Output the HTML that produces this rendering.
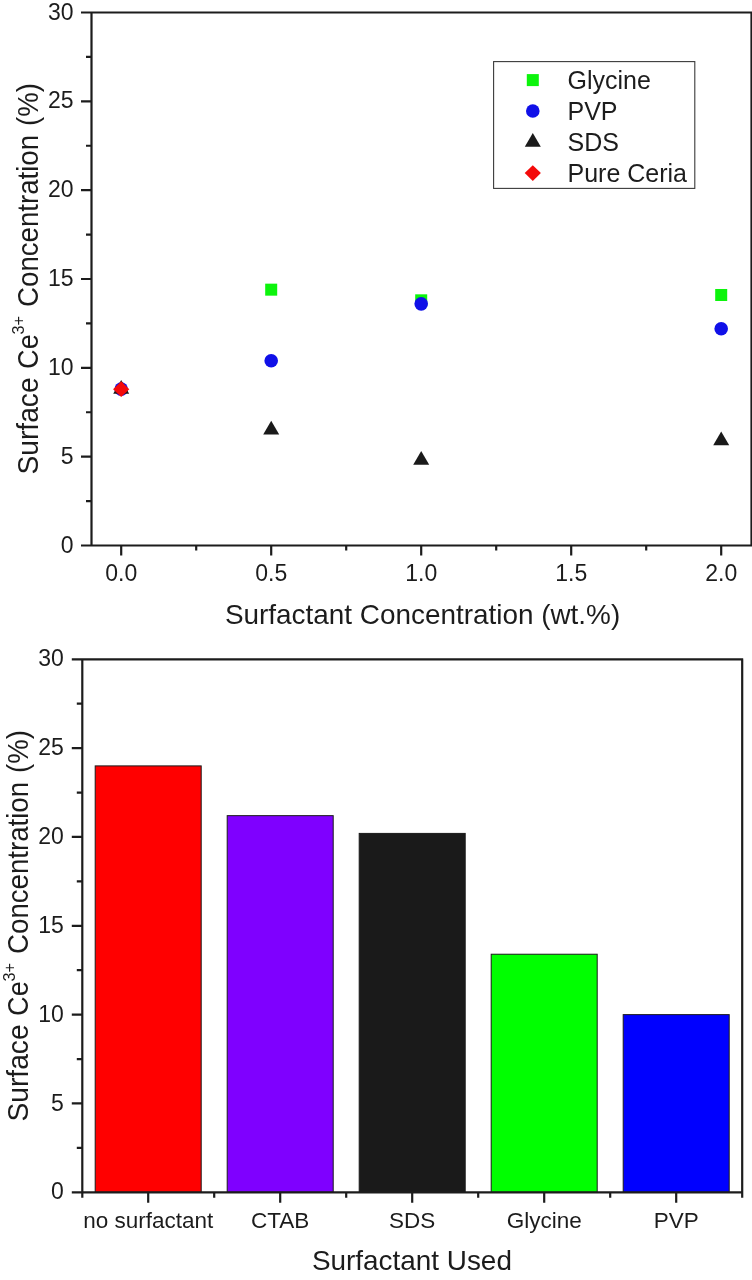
<!DOCTYPE html>
<html><head><meta charset="utf-8"><title>Surface Ce3+ Concentration</title>
<style>html,body{margin:0;padding:0;background:#fff;}body{width:752px;height:1280px;overflow:hidden;font-family:"Liberation Sans",sans-serif;}svg{display:block;will-change:transform}</style>
</head><body>
<svg width="752" height="1280" viewBox="0 0 752 1280">
<rect width="752" height="1280" fill="#fff"/>
<g font-family="'Liberation Sans', sans-serif" fill="#1c1c1c">
<g stroke="#1c1c1c" stroke-width="2.2" fill="none">
<path d="M81 12.5H752.5M751.5 12.5V545.5M81 545.5H752.5M91.5 12.5V545.5"/>
<path d="M81 456.67H91.5M81 367.83H91.5M81 279H91.5M81 190.17H91.5M81 101.33H91.5M86 501.08H91.5M86 412.25H91.5M86 323.42H91.5M86 234.58H91.5M86 145.75H91.5M86 56.92H91.5M121.2 545.5V555.5M271.2 545.5V555.5M421.2 545.5V555.5M571.2 545.5V555.5M721.2 545.5V555.5M196.2 545.5V550.5M346.2 545.5V550.5M496.2 545.5V550.5M646.2 545.5V550.5"/>
</g>
<text transform="translate(73.5 552.6) scale(1 1.0)" font-size="23" text-anchor="end">0</text>
<text transform="translate(73.5 463.77) scale(1 1.0)" font-size="23" text-anchor="end">5</text>
<text transform="translate(73.5 374.93) scale(1 1.0)" font-size="23" text-anchor="end">10</text>
<text transform="translate(73.5 286.1) scale(1 1.0)" font-size="23" text-anchor="end">15</text>
<text transform="translate(73.5 197.27) scale(1 1.0)" font-size="23" text-anchor="end">20</text>
<text transform="translate(73.5 108.43) scale(1 1.0)" font-size="23" text-anchor="end">25</text>
<text transform="translate(73.5 19.6) scale(1 1.0)" font-size="23" text-anchor="end">30</text>
<text transform="translate(121.2 581.1) scale(1 1.0)" font-size="23" text-anchor="middle">0.0</text>
<text transform="translate(271.2 581.1) scale(1 1.0)" font-size="23" text-anchor="middle">0.5</text>
<text transform="translate(421.2 581.1) scale(1 1.0)" font-size="23" text-anchor="middle">1.0</text>
<text transform="translate(571.2 581.1) scale(1 1.0)" font-size="23" text-anchor="middle">1.5</text>
<text transform="translate(721.2 581.1) scale(1 1.0)" font-size="23" text-anchor="middle">2.0</text>
<text transform="translate(224.9 624.4) scale(1 1.0)" font-size="27.9">Surfactant Concentration (wt.%)</text>
<text transform="translate(37.5 474.5) rotate(-90) scale(1 1.045)" font-size="28.2">Surface</text>
<text transform="translate(37.5 368.9) rotate(-90) scale(0.96 1.045)" font-size="28.2">Ce</text>
<text transform="translate(23.9 334.5) rotate(-90) scale(1 1.045)" font-size="16.3">3+</text>
<text transform="translate(37.5 306.9) rotate(-90) scale(0.98 1.045)" font-size="28.2">Concentration</text>
<text transform="translate(37.5 125.9) rotate(-90) scale(0.98 1.01365)" font-size="28.2">(%)</text>
<rect x="265.2" y="283.66" width="12" height="12" fill="#0cf40c"/>
<rect x="415.2" y="294.32" width="12" height="12" fill="#0cf40c"/>
<rect x="715.2" y="288.99" width="12" height="12" fill="#0cf40c"/>
<circle cx="121.2" cy="389.15" r="6.8" fill="#1010e8"/>
<circle cx="271.2" cy="360.73" r="6.8" fill="#1010e8"/>
<circle cx="421.2" cy="303.87" r="6.8" fill="#1010e8"/>
<circle cx="721.2" cy="328.75" r="6.8" fill="#1010e8"/>
<path d="M121.2 379.95L129.2 393.75H113.2Z" fill="#1a1a1a"/>
<path d="M271.2 420.82L279.2 434.62H263.2Z" fill="#1a1a1a"/>
<path d="M421.2 451.02L429.2 464.82H413.2Z" fill="#1a1a1a"/>
<path d="M721.2 431.48L729.2 445.28H713.2Z" fill="#1a1a1a"/>
<path d="M121.2 381.25L129.3 389.15L121.2 397.05L113.1 389.15Z" fill="#f40a0a"/>
<rect x="493.6" y="61.6" width="201.2" height="126.8" fill="#fff" stroke="#3a3a3a" stroke-width="1.1"/>
<rect x="526.8" y="74.1" width="12" height="12" fill="#0cf40c"/>
<circle cx="532.8" cy="111" r="6.8" fill="#1010e8"/>
<path d="M532.8 132.9L540.8 146.7H524.8Z" fill="#1a1a1a"/>
<path d="M532.8 165.2L540.9 173.1L532.8 181L524.7 173.1Z" fill="#f40a0a"/>
<text transform="translate(567.5 89.2) scale(1 1.035)" font-size="25">Glycine</text>
<text transform="translate(567.5 120) scale(1 1.035)" font-size="25">PVP</text>
<text transform="translate(567.5 150.8) scale(1 1.035)" font-size="25">SDS</text>
<text transform="translate(567.5 181.6) scale(1 1.035)" font-size="25">Pure Ceria</text>
<rect x="95.2" y="765.9" width="106" height="426.4" fill="#ff0000" stroke="#1a1a1a" stroke-width="1"/>
<rect x="227.2" y="815.65" width="106" height="376.65" fill="#7f00ff" stroke="#1a1a1a" stroke-width="1"/>
<rect x="359.2" y="833.41" width="106" height="358.89" fill="#1a1a1a" stroke="#1a1a1a" stroke-width="1"/>
<rect x="491.2" y="954.23" width="106" height="238.07" fill="#00ff00" stroke="#1a1a1a" stroke-width="1"/>
<rect x="623.2" y="1014.63" width="106" height="177.67" fill="#0000ff" stroke="#1a1a1a" stroke-width="1"/>
<g stroke="#1c1c1c" stroke-width="2.2" fill="none">
<path d="M71.8 659.3H743.2M742.2 659.3V1197.8M71.8 1192.3H743.2M82.3 659.3V1197.8M71.8 1103.47H82.3M71.8 1014.63H82.3M71.8 925.8H82.3M71.8 836.97H82.3M71.8 748.13H82.3M76.8 1147.88H82.3M76.8 1059.05H82.3M76.8 970.22H82.3M76.8 881.38H82.3M76.8 792.55H82.3M76.8 703.72H82.3M148.2 1192.3V1202.8M214.2 1192.3V1197.8M280.2 1192.3V1202.8M346.2 1192.3V1197.8M412.2 1192.3V1202.8M478.2 1192.3V1197.8M544.2 1192.3V1202.8M610.2 1192.3V1197.8M676.2 1192.3V1202.8"/>
</g>
<text transform="translate(63.8 1199.4) scale(1 1.0)" font-size="23" text-anchor="end">0</text>
<text transform="translate(63.8 1110.57) scale(1 1.0)" font-size="23" text-anchor="end">5</text>
<text transform="translate(63.8 1021.73) scale(1 1.0)" font-size="23" text-anchor="end">10</text>
<text transform="translate(63.8 932.9) scale(1 1.0)" font-size="23" text-anchor="end">15</text>
<text transform="translate(63.8 844.07) scale(1 1.0)" font-size="23" text-anchor="end">20</text>
<text transform="translate(63.8 755.23) scale(1 1.0)" font-size="23" text-anchor="end">25</text>
<text transform="translate(63.8 666.4) scale(1 1.0)" font-size="23" text-anchor="end">30</text>
<text transform="translate(148.2 1228) scale(1 1.0)" font-size="22.5" text-anchor="middle">no surfactant</text>
<text transform="translate(280.2 1228) scale(1 1.0)" font-size="22.5" text-anchor="middle">CTAB</text>
<text transform="translate(412.2 1228) scale(1 1.0)" font-size="22.5" text-anchor="middle">SDS</text>
<text transform="translate(544.2 1228) scale(1 1.0)" font-size="22.5" text-anchor="middle">Glycine</text>
<text transform="translate(676.2 1228) scale(1 1.0)" font-size="22.5" text-anchor="middle">PVP</text>
<text transform="translate(311.9 1270.2) scale(1 1.0)" font-size="27.9">Surfactant Used</text>
<text transform="translate(28.4 1121.5) rotate(-90) scale(1 1.045)" font-size="28.2">Surface</text>
<text transform="translate(28.4 1015.9) rotate(-90) scale(0.96 1.045)" font-size="28.2">Ce</text>
<text transform="translate(14.8 981.5) rotate(-90) scale(1 1.045)" font-size="16.3">3+</text>
<text transform="translate(28.4 953.9) rotate(-90) scale(0.98 1.045)" font-size="28.2">Concentration</text>
<text transform="translate(28.4 772.9) rotate(-90) scale(0.98 1.01365)" font-size="28.2">(%)</text>
</g></svg>
</body></html>
